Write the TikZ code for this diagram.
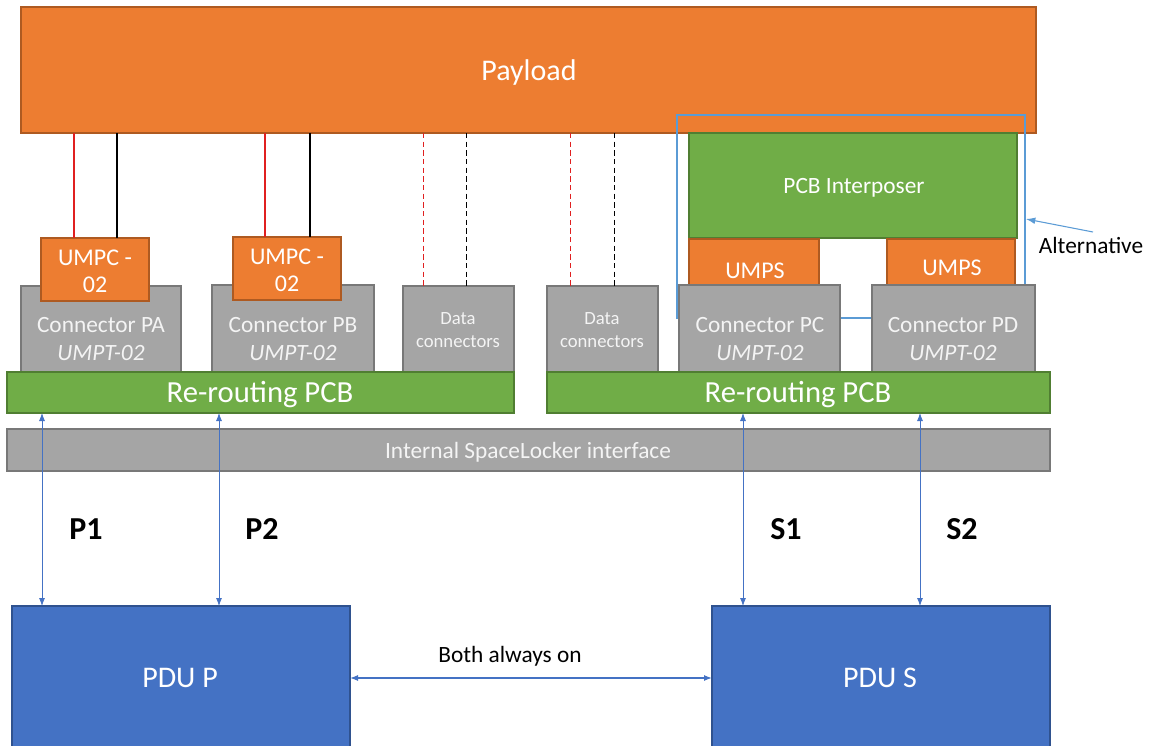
\documentclass[tikz,border=0pt]{standalone}
\usepackage{fontspec}
\setmainfont{Carlito}
\usetikzlibrary{arrows.meta}
\definecolor{orf}{HTML}{ED7D31}\definecolor{ord}{HTML}{AE5A21}
\definecolor{grf}{HTML}{A5A5A5}\definecolor{grd}{HTML}{787878}
\definecolor{gnf}{HTML}{70AD47}\definecolor{gnd}{HTML}{507E32}
\definecolor{blf}{HTML}{4472C4}\definecolor{bld}{HTML}{2F528F}
\definecolor{alt}{HTML}{5B9BD5}
\definecolor{redl}{HTML}{E02020}
\definecolor{gtxt}{HTML}{F4F4F4}
% box: style, name, x1, y1, x2, y2
\newcommand\rbox[6]{\node[#1, minimum width={0.75pt*(#5-#3)}, minimum height={0.75pt*(#6-#4)}] (#2) at ({(#3+#5)/2},{(#4+#6)/2}) {};}
\tikzset{
  box/.style={draw, line width=0.9pt, inner sep=0pt, outer sep=0pt},
  obox/.style={box, fill=orf, draw=ord},
  gbox/.style={box, fill=grf, draw=grd},
  pbox/.style={box, fill=gnf, draw=gnd},
  bbox/.style={box, fill=blf, draw=bld},
  txt/.style={align=center, inner sep=0pt},
  wt/.style={txt, text=white},
  gt/.style={txt, text=gtxt},
  varr/.style={draw=blf, line width=0.6pt, {Latex[length=6pt,width=4.5pt]}-{Latex[length=6pt,width=4.5pt]}},
  wire/.style={line width=0.8pt},
  dwire/.style={line width=0.6pt, dash pattern=on 4pt off 2.5pt},
  lbl/.style={font=\bfseries\fontsize{24}{26}\selectfont, inner sep=0pt}
}
\begin{document}
\begin{tikzpicture}[x=0.75pt,y=-0.75pt]
\useasboundingbox (0,0) rectangle (1150,746);
% payload
\rbox{obox}{payload}{21}{7}{1036}{133}
\node[wt, font=\fontsize{22.5}{24}\selectfont] (payloadt) at (529,73) {Payload};
% alternative outline
\draw[alt, line width=1pt] (677,115) rectangle (1025,318);
% PCB interposer and UMPS
\rbox{pbox}{interp}{689}{133}{1017}{238}
\node[wt, font=\fontsize{17.5}{19}\selectfont] (interpt) at (854,188) {PCB Interposer};
\rbox{obox}{umps1}{689}{239}{819}{285}
\rbox{obox}{umps2}{887}{239}{1015}{285}
\node[wt, font=\fontsize{18}{20}\selectfont] (umps1t) at (755,271) {UMPS};
\node[wt, font=\fontsize{18}{20}\selectfont] (umps2t) at (952,268) {UMPS};
% left connectors
\rbox{gbox}{ca}{21}{286}{181}{372}
\rbox{gbox}{cb}{212}{285}{374}{372}
\rbox{gbox}{dl}{403}{286}{514}{372}
\node[gt, font=\fontsize{14}{17}\selectfont] (dlt) at (458,330) {Data\\connectors};
\node[gt, font=\fontsize{17.5}{21}\selectfont] (cat) at (101,339) {Connector PA\\\textit{UMPT-02}};
\node[gt, font=\fontsize{17.5}{21}\selectfont] (cbt) at (293,339) {Connector PB\\\textit{UMPT-02}};
\rbox{obox}{umpc1}{41}{238}{149}{301}
\rbox{obox}{umpc2}{233}{237}{341}{300}
\node[wt, font=\fontsize{18}{20}\selectfont] (umpc1t) at (95,271) {UMPC -\\02};
\node[wt, font=\fontsize{18}{20}\selectfont] (umpc2t) at (287,270) {UMPC -\\02};
% right connectors
\rbox{gbox}{dr}{547}{286}{658}{372}
\node[gt, font=\fontsize{14}{17}\selectfont] (drt) at (602,330) {Data\\connectors};
\rbox{gbox}{cc}{679}{285}{840}{372}
\rbox{gbox}{cd}{872}{285}{1035}{372}
\node[gt, font=\fontsize{17.5}{21}\selectfont] (cct) at (760,339) {Connector PC\\\textit{UMPT-02}};
\node[gt, font=\fontsize{17.5}{21}\selectfont] (cdt) at (953,339) {Connector PD\\\textit{UMPT-02}};
% re-routing PCBs
\rbox{pbox}{rl}{7}{372}{514}{413}
\rbox{pbox}{rr}{547}{372}{1050}{413}
\node[wt, font=\fontsize{23}{25}\selectfont] (rlt) at (260,395) {Re-routing PCB};
\node[wt, font=\fontsize{23}{25}\selectfont] (rrt) at (798,395) {Re-routing PCB};
% interface
\rbox{gbox}{iface}{7}{429}{1050}{471}
\node[gt, font=\fontsize{17.5}{19}\selectfont] (ifacet) at (528,452) {Internal SpaceLocker interface};
% PDUs
\rbox{bbox}{pdup}{12}{606}{350}{748}
\rbox{bbox}{pdus}{712}{606}{1050}{748}
\node[wt, font=\fontsize{22.5}{24}\selectfont] (pdupt) at (180,678) {PDU P};
\node[wt, font=\fontsize{22.5}{24}\selectfont] (pdust) at (880,678) {PDU S};
% wires from payload
\draw[wire, redl] (74,0 |- payload.south) -- (74,0 |- umpc1.north);
\draw[wire, black] (117,0 |- payload.south) -- (117,0 |- umpc1.north);
\draw[wire, redl] (265,0 |- payload.south) -- (265,0 |- umpc2.north);
\draw[wire, black] (310,0 |- payload.south) -- (310,0 |- umpc2.north);
\draw[dwire, redl] (423,0 |- payload.south) -- (423,0 |- dl.north);
\draw[dwire, black] (466,0 |- payload.south) -- (466,0 |- dl.north);
\draw[dwire, redl] (570,0 |- payload.south) -- (570,0 |- dr.north);
\draw[dwire, black] (614,0 |- payload.south) -- (614,0 |- dr.north);
% vertical arrows
\draw[varr] (42,0 |- rl.south) -- (42,0 |- pdup.north);
\draw[varr] (219,0 |- rl.south) -- (219,0 |- pdup.north);
\draw[varr] (743,0 |- rr.south) -- (743,0 |- pdus.north);
\draw[varr] (920,0 |- rr.south) -- (920,0 |- pdus.north);
\node[lbl] (p1) at (86,529) {P1};
\node[lbl] (p2) at (262,529) {P2};
\node[lbl] (s1) at (786,529) {S1};
\node[lbl] (s2) at (962,529) {S2};
% both always on
\draw[varr, line width=0.9pt] (pdup.east |- 0,678) -- (pdus.west |- 0,678);
\node[txt, font=\fontsize{17.5}{19}\selectfont] (both) at (510,656) {Both always on};
% alternative
\node[txt, font=\fontsize{17.5}{19}\selectfont] (altl) at (1091,245) {Alternative};
\coordinate (altc) at (1093,232);
\draw[alt, line width=0.8pt, -{Latex[length=7pt,width=5pt]}] (altc) -- (1026,219);
\end{tikzpicture}
\end{document}
